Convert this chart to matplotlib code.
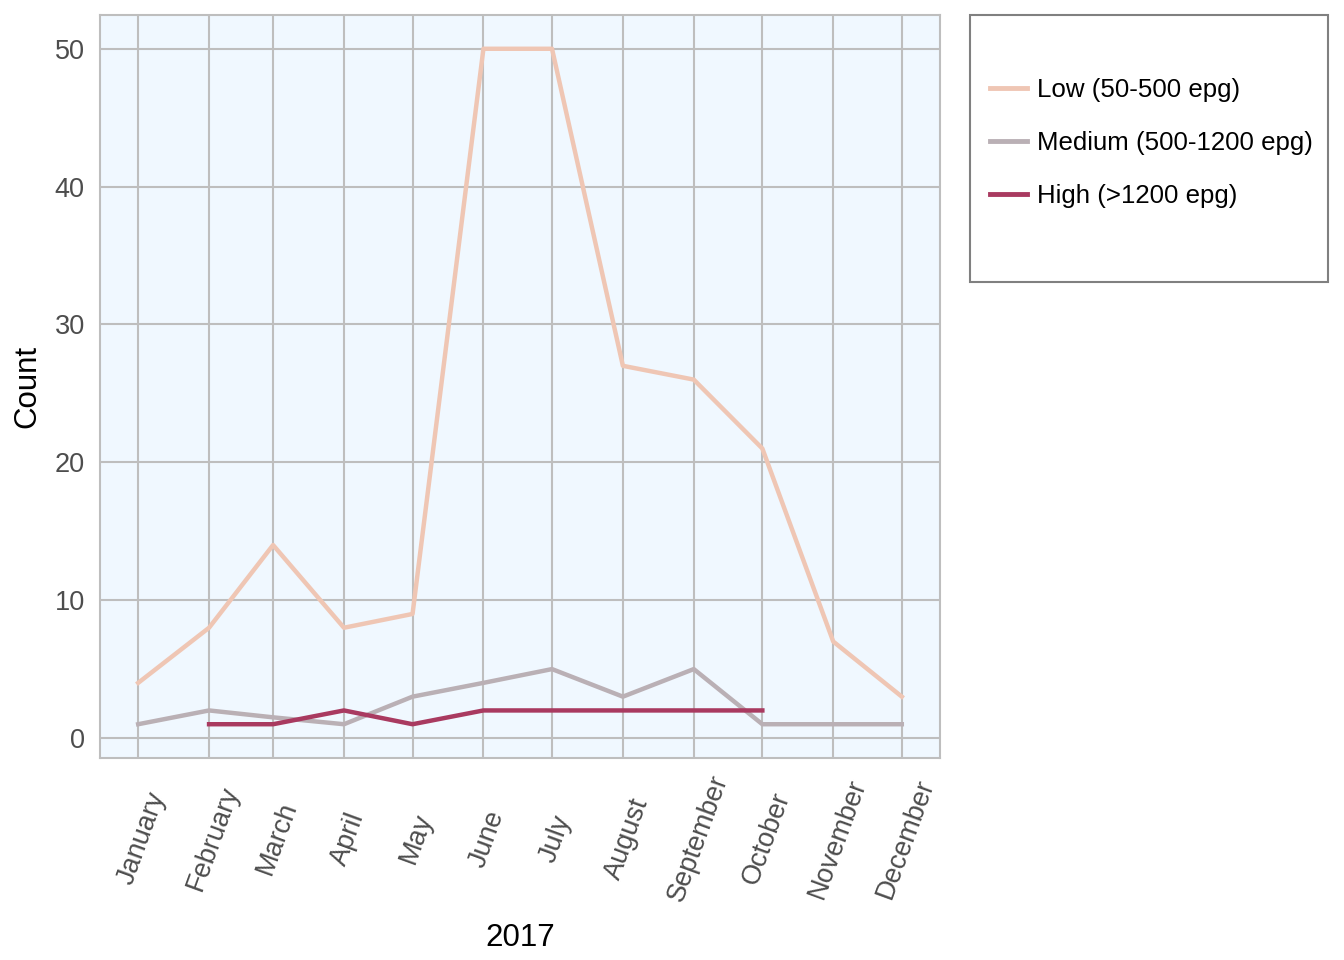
import numpy as np
import pandas as pd
import matplotlib
matplotlib.use("Agg")
import matplotlib.pyplot as plt
import matplotlib.transforms as mtransforms
from matplotlib.patches import Rectangle

plt.rcParams['font.family'] = ['Liberation Sans', 'DejaVu Sans']

# monthly counts for 2017
months = ["January", "February", "March", "April", "May", "June", "July",
          "August", "September", "October", "November", "December"]
dates = pd.date_range("2017-01-01", periods=12, freq="MS")
low = [4, 8, 14, 8, 9, 50, 50, 27, 26, 21, 7, 3]
medium = [1, 2, 1.5, 1, 3, 4, 5, 3, 5, 1, 1, 1]
high = [np.nan, 1, 1, 2, 1, 2, 2, 2, 2, 2, np.nan, np.nan]

labels = ["Low (50-500 epg)", "Medium (500-1200 epg)", "High (>1200 epg)"]
colors = ["#EFC6B4", "#BAB0B5", "#A93A60"]

fig = plt.figure(figsize=(13.44, 9.6), dpi=100)
ax = fig.add_axes([100 / 1344, 1 - 758 / 960, 840 / 1344, 743 / 960])

# background, grid and border
ax.set_facecolor("#F0F8FF")
ax.grid(True, color="#BEBEBE", linewidth=1.5)
ax.set_axisbelow(True)
for s in ax.spines.values():
    s.set_color("#BEBEBE")
    s.set_linewidth(1.5)

for series, lab, col in zip([low, medium, high], labels, colors):
    ax.plot(dates, series, color=col, linewidth=3.2, label=lab)

ax.margins(x=0.05, y=0.05)
ax.set_yticks([0, 10, 20, 30, 40, 50])
ax.set_xticks(dates)
ax.set_xticklabels(months, rotation=70, ha="center", va="center")
ax.tick_params(axis="both", length=0, labelsize=19.5, labelcolor="#4D4D4D")
ax.tick_params(axis="x", pad=58)
ax.tick_params(axis="y", pad=11)

# nudge month labels a little to the right
offset = mtransforms.ScaledTranslation(4 / 100, 0, fig.dpi_scale_trans)
for t in ax.get_xticklabels():
    t.set_transform(t.get_transform() + offset)

ax.set_xlabel("2017", fontsize=22.5, labelpad=13)
ax.set_ylabel("Count", fontsize=22.5, labelpad=9)

# legend box
fig.patches.append(Rectangle((970 / 1344, 1 - 282 / 960), 358 / 1344, 267 / 960,
                             transform=fig.transFigure, facecolor="none",
                             edgecolor="#808080", linewidth=1.5))
leg = ax.legend(loc="center left", bbox_to_anchor=(990 / 1344, 1 - 143 / 960),
                bbox_transform=fig.transFigure, frameon=False, fontsize=18.6,
                borderpad=0, borderaxespad=0, handlelength=1.43,
                handletextpad=0.39, labelspacing=1.12)
for line in leg.get_lines():
    line.set_linewidth(3.5)

fig.savefig("out.png", dpi=100)
